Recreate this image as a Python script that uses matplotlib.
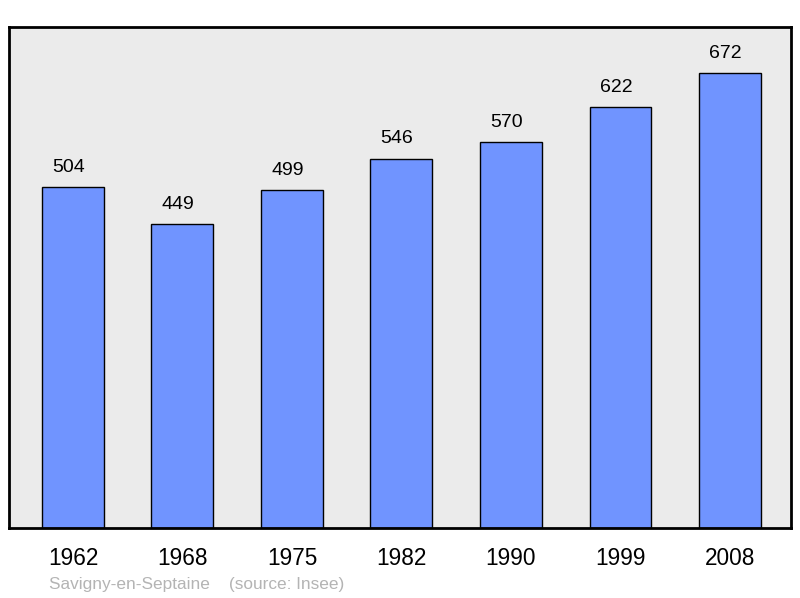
import matplotlib
matplotlib.use('Agg')
import matplotlib.pyplot as plt

# Donnees
years = ['1962', '1968', '1975', '1982', '1990', '1999', '2008']
population = [504, 449, 499, 546, 570, 622, 672]

plt.rcParams['font.family'] = ['Liberation Sans', 'DejaVu Sans']

fig = plt.figure(figsize=(8, 5.98), dpi=100)
ax = fig.add_axes([9 / 800, 1 - 528 / 598, 782 / 800, 501 / 598])
ax.set_facecolor('#ebebeb')

x = list(range(len(years)))
ax.bar(x, population, width=0.566, color='#7094ff', edgecolor='black', linewidth=1)

for xi, v in zip(x, population):
    ax.annotate(str(v), (xi, v), xytext=(-3.2, 8), textcoords='offset points',
                ha='center', va='bottom', fontsize=14)

ax.set_xlim(-0.584, 6.557)
ax.set_ylim(0, 740.5)
ax.set_yticks([])
ax.set_xticks(x)
ax.set_xticklabels(years, fontsize=16.3)
ax.tick_params(axis='x', length=0, pad=14)
for s in ax.spines.values():
    s.set_linewidth(2)

fig.text(49 / 800, 1 - 584 / 598, 'Savigny-en-Septaine    (source: Insee)',
         color='#b4b4b4', fontsize=12.4, ha='left', va='center')

plt.savefig('out.png', dpi=100)
